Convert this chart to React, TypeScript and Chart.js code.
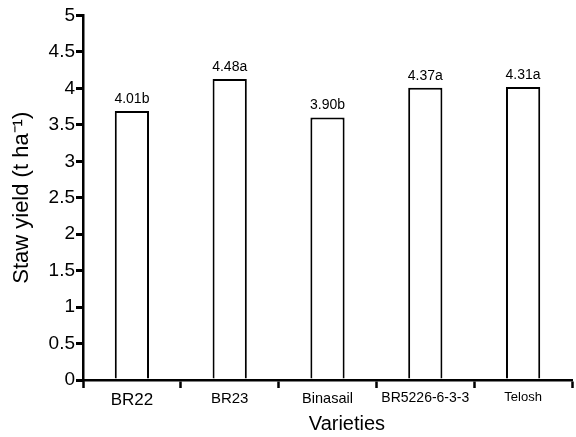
import React, { useEffect, useRef } from "react";
import { Chart, registerables } from "chart.js";

Chart.register(...registerables);

const categories = ["BR22", "BR23", "Binasail", "BR5226-6-3-3", "Telosh"];
const strawYield = [3.69, 4.13, 3.6, 4.01, 4.02];
const meanLabels = ["4.01b", "4.48a", "3.90b", "4.37a", "4.31a"];
const yAxisTitle = "Staw yield (t ha\u207B\u00B9)";
const xAxisTitle = "Varieties";

const FONT = "'Liberation Sans', Arial, Helvetica, sans-serif";
const xLabelSizes = [17, 15, 14.5, 14, 13];

const valueLabelPlugin = {
  id: "valueLabels",
  afterDatasetsDraw(chart: any) {
    const ctx = chart.ctx;
    const meta = chart.getDatasetMeta(0);
    ctx.save();
    ctx.fillStyle = "#000";
    ctx.font = `14px ${FONT}`;
    ctx.textAlign = "center";
    ctx.textBaseline = "bottom";
    meta.data.forEach((bar: any, i: number) => {
      ctx.fillText(meanLabels[i], bar.x, bar.y - 5);
    });
    ctx.restore();
  },
};

export default function App() {
  const ref = useRef<HTMLCanvasElement | null>(null);

  useEffect(() => {
    if (!ref.current) return;
    const chart = new Chart(ref.current, {
      type: "bar",
      data: {
        labels: categories,
        datasets: [
          {
            data: strawYield,
            backgroundColor: "#ffffff",
            borderColor: "#000000",
            borderWidth: 2,
            barPercentage: 0.35,
            categoryPercentage: 1,
          },
        ],
      },
      plugins: [valueLabelPlugin],
      options: {
        responsive: false,
        animation: false,
        layout: { padding: { left: 0, top: 15.5, right: 4, bottom: 0 } },
        plugins: {
          legend: { display: false },
          tooltip: { enabled: false },
        },
        scales: {
          x: {
            afterFit: (scale: any) => {
              scale.height = 57;
            },
            grid: {
              offset: true,
              drawOnChartArea: false,
              drawTicks: true,
              tickLength: 8,
              tickWidth: 2.5,
              tickColor: "#000",
              color: "#000",
            },
            border: { display: true, color: "#000", width: 2.5 },
            ticks: {
              color: "#000",
              padding: 2,
              font: (ctx: any) => ({ family: FONT, size: xLabelSizes[ctx.index] ?? 14 }),
              maxRotation: 0,
              autoSkip: false,
            },
            title: {
              display: true,
              text: "       " + xAxisTitle,
              color: "#000",
              font: { family: FONT, size: 20 },
              padding: { top: 0, bottom: 1 },
            },
          },
          y: {
            min: 0,
            max: 5,
            afterFit: (scale: any) => {
              scale.width = 83;
            },
            grid: {
              display: true,
              drawOnChartArea: false,
              drawTicks: true,
              tickLength: 7,
              tickWidth: 3,
              tickColor: "#000",
              color: "#000",
              lineWidth: 3,
            },
            border: { display: true, color: "#000", width: 2.5 },
            ticks: {
              stepSize: 0.5,
              color: "#000",
              padding: 1,
              font: { family: FONT, size: 19 },
              callback: (v: any) => String(v),
            },
            title: {
              display: true,
              text: yAxisTitle,
              color: "#000",
              font: { family: FONT, size: 22 },
              padding: { top: 9, bottom: 0 },
            },
          },
        },
      },
    });
    return () => chart.destroy();
  }, []);

  return (
    <div style={{ position: "absolute", left: 0, top: 0, width: 576, height: 437, background: "#fff" }}>
      <canvas ref={ref} width={576} height={437} style={{ display: "block" }} />
    </div>
  );
}
